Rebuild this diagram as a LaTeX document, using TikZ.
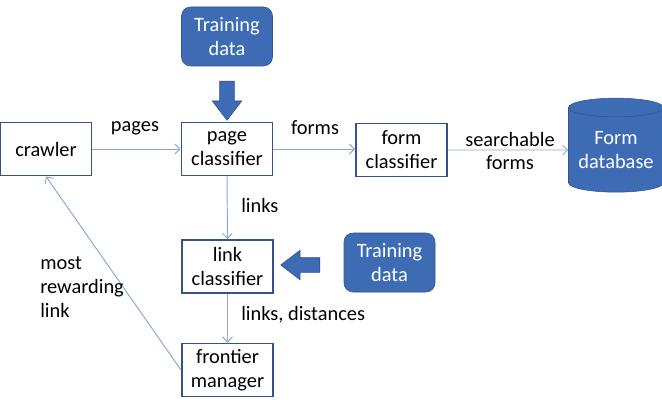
\documentclass[tikz,border=0pt]{standalone}
\usepackage{fontspec}
\setmainfont{Carlito}
\usetikzlibrary{positioning,shapes.geometric,shapes.arrows,arrows.meta}

\definecolor{boxline}{RGB}{52,82,140}
\definecolor{bluefill}{RGB}{62,108,180}
\definecolor{flowline}{RGB}{140,168,214}

\newlength{\px}
\setlength{\px}{0.025cm}
\tikzset{
  stage/.style={draw=boxline,line width=1.4pt,fill=white,minimum width=91\px,minimum height=53\px,
    align=center,inner sep=0pt},
  trainbox/.style={draw=boxline,fill=bluefill,rounded corners=9\px,minimum width=91\px,minimum height=59\px,
    align=center,text=white,inner sep=0pt},
  bigarrow/.style={single arrow,draw=boxline,fill=bluefill,inner sep=7\px,minimum height=39\px,
    single arrow head extend=7.5\px,single arrow tip angle=75},
  flow/.style={draw=flowline,line width=0.7pt,-{Straight Barb[length=3.5pt,width=7pt]}},
  lbl/.style={inner sep=0pt,align=left}
}

\begin{document}
\begin{tikzpicture}[x=0.025cm,y=-0.025cm,font=\fontsize{14.5}{17}\selectfont]
\useasboundingbox (0,0) rectangle (662,406);

\node[trainbox] (trainpage) at (227,36.5) {Training\\data};
\node[stage] (crawler) at (46,149) {crawler};
\node[stage] (page) at (227,149) {page\\classifier};
\node[stage] (form) at (401.5,150) {form\\classifier};
\node[cylinder,shape border rotate=90,aspect=0.25,draw=boxline,fill=bluefill,text=white,align=center,
  minimum width=95\px,minimum height=94\px,inner sep=0pt] (formdb) at (616,150) {Form\\database};
\node[stage] (link) at (227.5,266.5) {link\\classifier};
\node[stage] (frontier) at (227.5,370) {frontier\\manager};
\node[trainbox] (trainlink) at (389.5,262.5) {Training\\data};

% block arrows
\node[bigarrow,shape border rotate=270] (pagein) at (227,96) {};
\node[bigarrow,shape border rotate=180] (linkin) at (305,265) {};

% flows
\draw[flow] (crawler) -- (page);
\draw[flow] (page.east) -- (form.west |- page.east);
\draw[flow] (form) -- (formdb);
\draw[flow] (page) -- (link);
\draw[flow] (link) -- (frontier);
\draw[flow] (frontier.west) -- (crawler.south);

\node[lbl] (pageslbl) at (135,128) {pages};
\node[lbl] (formslbl) at (315,128) {forms};
\node[lbl,align=center] (searchlbl) at (510,151) {searchable\\forms};
\node[lbl,anchor=west] (linkslbl) at (241,205) {links};
\node[lbl,anchor=west] (distlbl) at (241,315) {links, distances};
\node[lbl,anchor=west] (rewardlbl) at (40,287) {most\\rewarding\\link};
\end{tikzpicture}
\end{document}
